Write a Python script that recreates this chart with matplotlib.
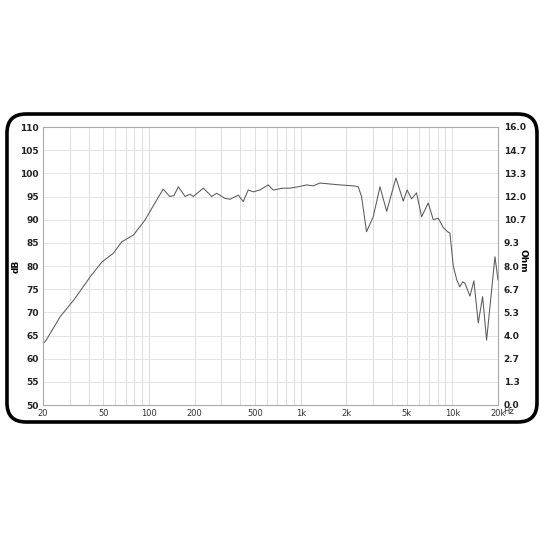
import numpy as np
import matplotlib
matplotlib.use("Agg")
import matplotlib.pyplot as plt
from matplotlib.patches import FancyBboxPatch

# frequency response (Hz, dB)
freq = [20, 21, 26, 32, 41, 49, 58, 66, 79, 94, 109, 124, 137, 146, 156, 173,
        186, 196, 228, 259, 279, 317, 342, 388, 418, 451, 487, 538, 611, 659,
        768, 850, 964, 1095, 1211, 1339, 1560, 1816, 2224, 2395, 2520, 2718,
        3007, 3333, 3690, 4248, 4745, 5035, 5385, 5807, 6268, 6935, 7485,
        8075, 8712, 9300, 9639, 10140, 10700, 11210, 11700, 12100, 13060,
        13870, 14820, 15830, 16820, 19100, 20000]
spl = [63.2, 64.0, 69.1, 72.7, 77.7, 80.9, 82.7, 85.2, 86.7, 89.9, 93.5, 96.6,
       95.0, 95.2, 97.1, 95.0, 95.5, 95.0, 96.8, 95.0, 95.7, 94.6, 94.4, 95.3,
       93.9, 96.4, 96.0, 96.4, 97.5, 96.4, 96.8, 96.8, 97.1, 97.5, 97.3, 97.9,
       97.7, 97.5, 97.3, 97.1, 95.0, 87.4, 90.6, 97.1, 91.8, 99.0, 94.0, 96.4,
       94.5, 95.8, 90.6, 93.6, 90.0, 90.3, 88.3, 87.4, 87.1, 80.0, 77.0, 75.5,
       76.6, 76.3, 73.5, 76.8, 67.7, 73.4, 64.0, 82.0, 77.0]

x_ticks = [20, 50, 100, 200, 500, 1000, 2000, 5000, 10000, 20000]
x_labels = ["20", "50", "100", "200", "500", "1k", "2k", "5k", "10k", "20k"]
db_ticks = list(range(50, 111, 5))
ohm_ticks = np.linspace(0, 16, 13)

fig = plt.figure(figsize=(5.45, 5.45), dpi=100)

# rounded black frame
frame = FancyBboxPatch((0.0128, 0.2257), 0.9725, 0.5651,
                       boxstyle="round,pad=0,rounding_size=0.035",
                       transform=fig.transFigure, facecolor="none",
                       edgecolor="black", linewidth=2.6, zorder=0)
fig.patches.append(frame)

ax = fig.add_axes([43 / 545, 140 / 545, 455 / 545, 278 / 545])
ax.set_xscale("log")
ax.set_xlim(20, 20000)
ax.set_ylim(50, 110)

minor = [m * 10 ** e for e in range(1, 5) for m in range(2, 10)]
minor = [v for v in minor if 20 < v < 20000]
ax.set_xticks(minor, minor=True)
ax.set_xticks(x_ticks)
ax.set_xticklabels(x_labels)
ax.set_xticklabels([], minor=True)
ax.set_yticks(db_ticks)
ax.grid(True, which="both", axis="x", color="#d8d8d8", linewidth=0.6)
ax.grid(True, which="major", axis="y", color="#e0e0e0", linewidth=0.6)
ax.tick_params(axis="both", which="both", length=0)
ax.tick_params(axis="x", labelsize=6, pad=3, colors="#333333")
ax.tick_params(axis="y", labelsize=6.5, pad=3)
for lbl in ax.get_yticklabels():
    lbl.set_fontweight("bold")
    lbl.set_color("#222222")
for s in ax.spines.values():
    s.set_color("#aaaaaa")
    s.set_linewidth(0.8)

ax.plot(freq, spl, color="#5a5a5a", linewidth=0.75)

ax.set_ylabel("dB", fontsize=6.5, fontweight="bold")
ax.yaxis.set_label_coords(-0.05, 0.5)

ax2 = ax.twinx()
ax2.set_ylim(0, 16)
ax2.set_yticks(ohm_ticks)
ax2.set_yticklabels(["%.1f" % v for v in ohm_ticks])
ax2.tick_params(axis="y", length=0, labelsize=6.5, pad=4)
for lbl in ax2.get_yticklabels():
    lbl.set_fontweight("bold")
    lbl.set_color("#222222")
for s in ax2.spines.values():
    s.set_visible(False)
ax2.set_ylabel("Ohm", fontsize=6.5, fontweight="bold", rotation=270, va="center")
ax2.yaxis.set_label_coords(1.055, 0.52)

fig.text(509 / 545, 1 - 411 / 545, "Hz", fontsize=6, color="#333333",
         ha="center", va="center")

fig.savefig("out.png", dpi=100)
